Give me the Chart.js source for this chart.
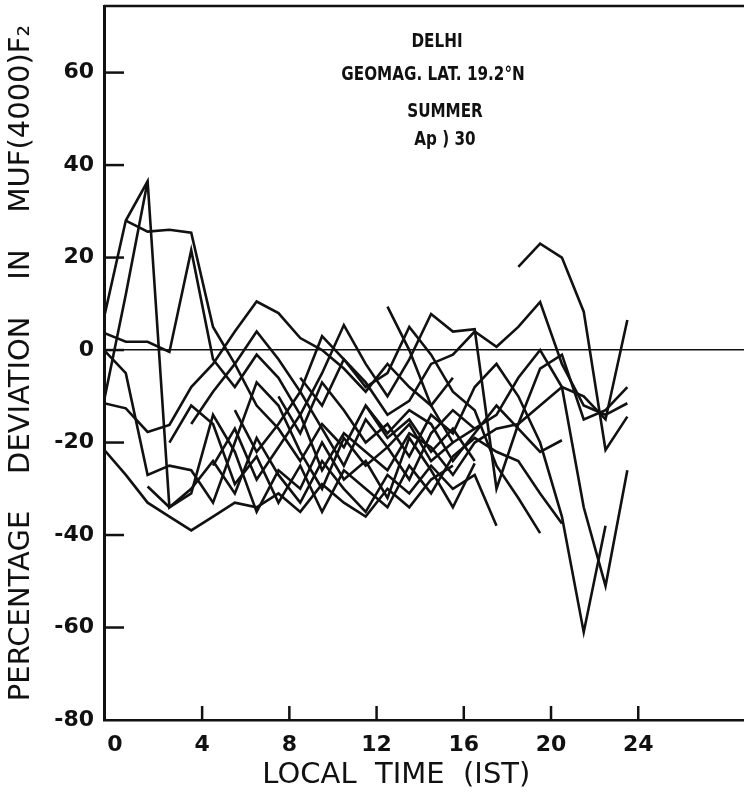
<!DOCTYPE html>
<html>
<head>
<meta charset="utf-8">
<script src="https://cdn.jsdelivr.net/npm/chart.js@4/dist/chart.umd.min.js"></script>
<style>
html,body{margin:0;padding:0;background:#fff;overflow:hidden;}
canvas{display:block;}
</style>
</head>
<body>
<canvas id="c" width="744" height="805"></canvas>
<script>
// Local time (IST) of each reading, hours
const hours = [-0.5,0.5,1.5,2.5,3.5,4.5,5.5,6.5,7.5,8.5,9.5,10.5,11.5,12.5,13.5,14.5,15.5,16.5,17.5,18.5,19.5,20.5,21.5,22.5,23.5];
const n = null;
// Percentage deviation in MUF(4000)F2, one array per disturbed day
const seriesA = [7,28,36.5,-34,-30,-24,-31,-19,-27,-33,-24,-30,-35,-27,-31,-25,-30,-27,-38,n,n,n,n,n,n];
const seriesB = [n,28,25.6,26,25.4,5,-3,-12,-17,-24,-16,-21,-12,-19,-15,-22,-17,-24,n,n,n,n,n,n,n];
const seriesC = [-11,12,36.5,n,n,n,n,n,n,n,n,n,n,n,n,n,n,n,n,n,n,n,n,n,n];
const seriesD = [3.7,1.8,1.8,-0.4,21.6,-2,-8,-1,-6,-14,-5,5.4,-3,-10,-2,7.8,4,4.5,-30,-16,-4,-1,-15,-13,-8];
const seriesE = [-21.5,-27,-33,-36,-39,-36,-33,-34,-31,-35,-29,-33,-36,-30,-34,-28,-25,n,n,n,n,n,n,n,n];
const seriesF = [-11.5,-12.6,-17.7,-16.2,-8,-3,4,10.5,8,2.6,0,-4,-9,-3,-8,-12,-6,n,n,n,n,n,n,n,n];
const seriesG = [0,-5,-27,-25,-26,-33,-20,-7,-12,-22,-30,-19,-25,-21,-16,-24,-20,n,n,n,n,n,n,n,n];
const seriesH = [n,n,-29.5,-34,-31,-14,-22,-35,-26,-30,-20,-28,-24,-32,-19,-26,-34,-24.5,n,n,n,n,n,n,n];
const seriesI = [n,n,n,n,n,n,n,n,n,n,n,n,n,n,n,n,n,n,n,18,23,20,8.3,-21.6,-14.4];
const seriesJ = [n,n,n,n,n,n,n,n,n,-6,-12,-2,-7,-14,-11,-3,-1,4,0.7,5,10.4,-3,-12,-14,-11.5];
const seriesK = [n,n,n,n,n,n,n,n,-10,-18,-7,-13,-20,-16,-23,-14,-18,-8,-3,-10,-20,-36,-61,-38,n];
const seriesL = [n,n,n,n,n,n,-13,-22,-16,-9,-17,-25,-15,-21,-28,-18,-13,-17,-14,-6,0,-8,-34,-51,-26];
const seriesM = [n,n,n,n,n,-25,-17,-28,-21,-14,-26,-18,-22,-26,-18,-21,-27,-20,-17,-16,-12,-8,-10,-15,6.5];
const seriesN = [n,n,n,-20,-12,-16,-29,-23,-33,-25,-35,-26,-30,-34,-25,-31,-23,-19,-22,-24,-31,-37.5,n,n,n];
const seriesO = [n,n,n,n,-16,-9,-3,4,-2,-9,3,-2,-8,-5,5,-1,-9,-13,-25,-32,-39.6,n,n,n,n];
const seriesP = [n,n,n,n,n,n,n,n,n,n,n,n,-12,-18,-13,-16,-24,-18,-12,-17,-22,-19.5,n,n,n];
const seriesQ = [n,n,n,n,n,n,n,n,n,n,n,n,n,9.4,0,-12,-20,-17,n,n,n,n,n,n,n];

const xTickLabels = [0,4,8,12,16,20,24];
const yTickLabels = [-80,-60,-40,-20,0,20,40,60];
const notes = ['DELHI','GEOMAG. LAT. 19.2°N','SUMMER','Ap ) 30'];

const allSeries = [seriesA,seriesB,seriesC,seriesD,seriesE,seriesF,seriesG,seriesH,seriesI,seriesJ,seriesK,seriesL,seriesM,seriesN,seriesO,seriesP,seriesQ];

function toPoints(vals){
  const pts = [];
  vals.forEach((v,i)=>{ if(v!==null) pts.push({x:hours[i], y:v}); });
  return pts;
}

const ink = '#111';

const framePlugin = {
  id:'frame',
  afterDraw(chart){
    const {ctx, chartArea:a, scales:{x,y}} = chart;
    ctx.save();
    ctx.strokeStyle = ink;
    ctx.lineWidth = 2.5;
    ctx.beginPath(); ctx.moveTo(a.left, a.top); ctx.lineTo(a.right, a.top); ctx.stroke();
    yTickLabels.forEach(v=>{
      if(v===-80) return;
      const py = y.getPixelForValue(v);
      ctx.beginPath(); ctx.moveTo(a.left, py); ctx.lineTo(a.left+20, py); ctx.stroke();
    });
    xTickLabels.forEach(v=>{
      if(v===0) return;
      const px = x.getPixelForValue(v);
      ctx.beginPath(); ctx.moveTo(px, a.bottom); ctx.lineTo(px, a.bottom-14); ctx.stroke();
    });
    ctx.fillStyle = ink;
    ctx.textAlign = 'center';
    ctx.textBaseline = 'middle';
    const pos = [[437,42],[433,75],[445,112],[445,140]];
    ctx.font = 'bold 20px "DejaVu Sans"';
    notes.forEach((t,i)=>{
      ctx.save();
      ctx.translate(pos[i][0], pos[i][1]);
      ctx.scale(0.76,1);
      ctx.fillText(t,0,0);
      ctx.restore();
    });
    ctx.restore();
  }
};

new Chart(document.getElementById('c'), {
  type:'line',
  data:{
    datasets: allSeries.map(s=>({
      data: toPoints(s),
      borderColor: ink,
      borderWidth: 2.6,
      pointRadius: 0,
      tension: 0,
      fill: false
    }))
  },
  options:{
    responsive:false,
    animation:false,
    events:[],
    layout:{padding:{top:6,right:0,left:0,bottom:0}},
    plugins:{legend:{display:false}, tooltip:{enabled:false}},
    scales:{
      x:{
        type:'linear',
        min:-0.5,
        max:28.85,
        afterFit(s){ s.height = 85; s.paddingLeft = 0; s.paddingRight = 0; },
        afterBuildTicks(s){ s.ticks = xTickLabels.map(v=>({value:v})); },
        ticks:{
          padding:12,
          color:ink,
          font:{family:'"DejaVu Sans"', size:22, weight:'bold'},
          maxRotation:0,
          autoSkip:false,
          callback:(v)=> String(v)
        },
        grid:{display:true, drawOnChartArea:false, drawTicks:false},
        border:{display:true, color:ink, width:2.5},
        title:{
          display:true,
          text:'LOCAL  TIME  (IST)      ',
          color:ink,
          font:{family:'"DejaVu Sans"', size:29},
          padding:{top:0,bottom:12}
        }
      },
      y:{
        type:'linear',
        min:-80,
        max:74.4,
        afterFit(s){ s.width = 104; s.paddingTop = 0; s.paddingBottom = 0; },
        afterBuildTicks(s){ s.ticks = yTickLabels.map(v=>({value:v})); },
        ticks:{
          padding:10,
          color:ink,
          font:{family:'"DejaVu Sans"', size:22, weight:'bold'},
          autoSkip:false,
          callback:(v)=> String(v)
        },
        grid:{
          drawTicks:false,
          color:(c)=> (c.tick && c.tick.value===0) ? ink : 'rgba(0,0,0,0)',
          lineWidth:1.6
        },
        border:{display:true, color:ink, width:3},
        title:{
          display:true,
          text:'PERCENTAGE    DEVIATION    IN    MUF(4000)F₂',
          color:ink,
          font:{family:'"DejaVu Sans"', size:29},
          padding:{top:4,bottom:0}
        }
      }
    }
  },
  plugins:[framePlugin]
});
</script>
</body>
</html>
